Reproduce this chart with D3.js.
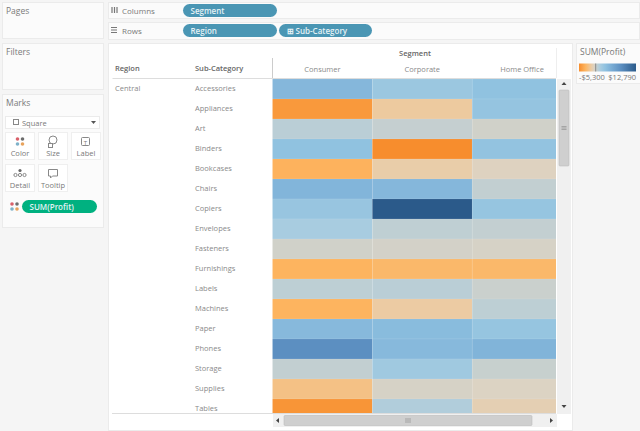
<!DOCTYPE html>
<html>
<head>
<meta charset="utf-8">
<script src="https://d3js.org/d3.v7.min.js"></script>
<style>
html, body { margin: 0; padding: 0; background: #f5f5f5; overflow: hidden; }
text { font-family: "Open Sans", sans-serif; }
</style>
</head>
<body>
<svg id="main" width="640" height="431"></svg>
<script>
// values
var subCategories = ['Accessories', 'Appliances', 'Art', 'Binders', 'Bookcases', 'Chairs', 'Copiers', 'Envelopes',
    'Fasteners', 'Furnishings', 'Labels', 'Machines', 'Paper', 'Phones', 'Storage', 'Supplies', 'Tables'];
var segments = ['Consumer', 'Corporate', 'Home Office'];
var consumerProfit = [4000, -4700, 700, 3000, -3400, 4200, 2500, 1500, -100, -3300, 600, -3300, 3800, 8000, 400, -2300, -4900];
var corporateProfit = [2300, -1600, 300, -5300, -1300, 4000, 12790, 500, -200, -3000, 700, -1500, 3600, 3800, 2000, -300, 1100];
var homeOfficeProfit = [3000, 2700, -100, 2800, -600, 400, 2600, 350, -300, -3000, 100, 600, 2600, 4300, 200, -500, -1000];
var legendLabels = ['-$5,300', '$12,790'];
var legendDomain = [-5300, 12790];

var profitBySegment = [consumerProfit, corporateProfit, homeOfficeProfit];

var svg = d3.select('#main');
var textColor = '#7a7a7a';
var lineColor = '#ebebeb';

var color = d3.scaleLinear()
    .domain([-5300, -3300, -1500, -500, 0, 500, 1500, 3000, 4500, 8000, 12790])
    .range(['#f78d2d', '#fdb45f', '#eccba3', '#dcd3c3', '#cdd0cb', '#bfcfd3', '#a8cce0', '#90c2e0', '#7fb2d8', '#5c8fc1', '#2b5a8a'])
    .clamp(true);

function panel(x, y, w, h, fill) {
    svg.append('rect').attr('x', x + 0.5).attr('y', y + 0.5).attr('width', w).attr('height', h)
        .attr('fill', fill || '#fbfbfb').attr('stroke', lineColor);
}

function label(x, y, s, size, fill, anchor, weight) {
    return svg.append('text').attr('x', x).attr('y', y).text(s)
        .style('font-size', size + 'px')
        .style('fill', fill || textColor)
        .style('text-anchor', anchor || 'start')
        .style('font-weight', weight || 400);
}

function pill(x, y, w, h, s, fill) {
    svg.append('rect').attr('x', x).attr('y', y).attr('width', w).attr('height', h)
        .attr('rx', h / 2).attr('fill', fill);
    label(x + 7.5, y + h - 3.5, s, 8, '#e4f1f5', 'start', 600);
}

// left side panels
panel(2, 2, 101, 36);
label(6, 14, 'Pages', 8.5);
panel(2, 43, 101, 46);
label(6, 55, 'Filters', 8.5);
panel(2, 94, 101, 133);
label(6, 106, 'Marks', 8.5);

// mark type dropdown
panel(5, 116, 94, 12, 'white');
svg.append('rect').attr('x', 13.5).attr('y', 119.5).attr('width', 5).attr('height', 5)
    .attr('fill', 'none').attr('stroke', '#888');
label(22, 125.5, 'Square', 7.5);
svg.append('path').attr('d', 'M91 121h5l-2.5 3z').attr('fill', '#555');

// mark cards
var cards = [
    { name: 'Color', x: 5, y: 132 }, { name: 'Size', x: 38, y: 132 }, { name: 'Label', x: 71, y: 132 },
    { name: 'Detail', x: 5, y: 164 }, { name: 'Tooltip', x: 38, y: 164 }
];
cards.forEach(function (c) {
    svg.append('rect').attr('x', c.x + 0.5).attr('y', c.y + 0.5).attr('width', 29).attr('height', 27)
        .attr('fill', 'white').attr('stroke', '#efefef');
    label(c.x + 15, c.y + 24, c.name, 7.5, textColor, 'middle');
});

function colorDots(x, y) {
    svg.selectAll(null).data(['#d9606a', '#6d6d6d', '#7fb2c9', '#e8a35c']).enter().append('circle')
        .attr('cx', function (d, i) { return x + (i % 2) * 5; })
        .attr('cy', function (d, i) { return y + Math.floor(i / 2) * 5; })
        .attr('r', 1.8).attr('fill', function (d) { return d; });
}
colorDots(17.5, 139);
svg.append('circle').attr('cx', 53).attr('cy', 140).attr('r', 4).attr('fill', 'none').attr('stroke', '#888');
svg.append('rect').attr('x', 48.5).attr('y', 143.5).attr('width', 4).attr('height', 4).attr('fill', 'white').attr('stroke', '#888');
svg.append('rect').attr('x', 81.5).attr('y', 137.5).attr('width', 8).attr('height', 8).attr('rx', 1).attr('fill', 'none').attr('stroke', '#888');
label(85.5, 144.5, 'T', 6, '#777', 'middle');
svg.selectAll(null).data([15.5, 20, 24.5]).enter().append('circle')
    .attr('cx', function (d) { return d; }).attr('cy', 175).attr('r', 1.6).attr('fill', 'none').attr('stroke', '#888');
svg.append('circle').attr('cx', 20).attr('cy', 170.5).attr('r', 1.6).attr('fill', '#666');
svg.append('path').attr('d', 'M48.5 169.5h9v6.5h-5l-2 2v-2h-2z').attr('fill', 'none').attr('stroke', '#888');

colorDots(12, 204);
pill(22, 200, 75, 13, 'SUM(Profit)', '#00b180');

// shelves
panel(108, 2, 531, 16);
panel(108, 22, 531, 17);
svg.append('path').attr('d', 'M112 7v6M114.5 7v6M117 7v6').attr('stroke', '#777').attr('stroke-width', 1.2);
label(122, 14, 'Columns', 8);
svg.append('path').attr('d', 'M111 27.5h6M111 30h6M111 32.5h6').attr('stroke', '#777').attr('stroke-width', 1.2);
label(122, 34, 'Rows', 8);
pill(183, 4, 94, 13, 'Segment', '#4a96b4');
pill(183, 24, 94, 13, 'Region', '#4a96b4');
pill(279, 24, 93, 13, '\u229e Sub-Category', '#4a96b4');

// view
panel(108, 43, 464, 387, 'white');

var x = d3.scaleBand().domain(segments).range([272.5, 572]);
var y = d3.scaleBand().domain(subCategories).range([79, 419]);

svg.append('clipPath').attr('id', 'cells').append('rect')
    .attr('x', 272).attr('y', 78).attr('width', 284).attr('height', 335);
svg.append('clipPath').attr('id', 'names').append('rect')
    .attr('x', 112).attr('y', 78).attr('width', 160).attr('height', 335);

var cellData = [];
segments.forEach(function (seg, i) {
    subCategories.forEach(function (sub, j) {
        cellData.push({ segment: seg, subCategory: sub, profit: profitBySegment[i][j] });
    });
});

svg.append('g').attr('clip-path', 'url(#cells)')
    .selectAll('rect')
    .data(cellData)
    .enter()
    .append('rect')
    .attr('x', function (d) { return x(d.segment); })
    .attr('y', function (d) { return y(d.subCategory); })
    .attr('width', x.bandwidth())
    .attr('height', y.bandwidth())
    .attr('fill', function (d) { return color(d.profit); })
    .attr('stroke', 'rgba(255,255,255,0.1)')
    .attr('stroke-width', 0.7);

// sub-category axis
var rowAxis = svg.append('g').attr('clip-path', 'url(#names)')
    .append('g').attr('transform', 'translate(195,0)')
    .call(d3.axisRight(y).tickSize(0).tickPadding(0));
rowAxis.select('.domain').remove();
rowAxis.selectAll('text').style('font-size', '7.5px').style('fill', '#8a8a8a').style('font-family', '"Open Sans", sans-serif');

// segment axis
var colAxis = svg.append('g').attr('transform', 'translate(0,71.5)')
    .call(d3.axisTop(x).tickSize(0).tickPadding(0));
colAxis.select('.domain').remove();
colAxis.selectAll('text').style('font-size', '7.5px').style('fill', '#8a8a8a').style('font-family', '"Open Sans", sans-serif');
colAxis.selectAll('.tick').filter(function (d) { return d === 'Home Office'; })
    .attr('transform', 'translate(522,0)');

label(115, 71, 'Region', 7.5, '#666', 'start', 600);
label(195, 71, 'Sub-Category', 7.5, '#666', 'start', 600);
label(415, 56, 'Segment', 7.5, '#666', 'middle', 600);
label(115, 91, 'Central', 7.5, '#8a8a8a');

// header rules
svg.append('path').attr('d', 'M112.5 78.5H556').attr('stroke', '#ddd').attr('fill', 'none');
svg.append('path').attr('d', 'M272.5 58V78').attr('stroke', '#ccc').attr('fill', 'none');
svg.append('path').attr('d', 'M556.5 48V78').attr('stroke', '#eee').attr('fill', 'none');
svg.append('path').attr('d', 'M112 413.5H556').attr('stroke', '#ddd').attr('fill', 'none');

// vertical scrollbar
svg.append('rect').attr('x', 557).attr('y', 79).attr('width', 14).attr('height', 335).attr('fill', '#f0f0f0');
svg.append('rect').attr('x', 559).attr('y', 90).attr('width', 10).attr('height', 76).attr('rx', 1)
    .attr('fill', '#cfcfcf').attr('stroke', '#b5b5b5').attr('stroke-width', 0.5);
svg.append('path').attr('d', 'M561.5 126.5h5M561.5 128h5M561.5 129.5h5').attr('stroke', '#888').attr('stroke-width', 0.6);
svg.append('path').attr('d', 'M561.5 85l2.5-3 2.5 3z').attr('fill', '#444');
svg.append('path').attr('d', 'M561.5 405l2.5 3 2.5-3z').attr('fill', '#444');

// horizontal scrollbar
svg.append('rect').attr('x', 273).attr('y', 414).attr('width', 284).attr('height', 13).attr('fill', '#f0f0f0');
svg.append('rect').attr('x', 284).attr('y', 415.5).attr('width', 248).attr('height', 10).attr('rx', 1)
    .attr('fill', '#cfcfcf').attr('stroke', '#b5b5b5').attr('stroke-width', 0.5);
svg.append('path').attr('d', 'M406 418v5M408 418v5M410 418v5').attr('stroke', '#888').attr('stroke-width', 0.6);
svg.append('path').attr('d', 'M279 418l-3 2.5 3 2.5z').attr('fill', '#444');
svg.append('path').attr('d', 'M550 418l3 2.5-3 2.5z').attr('fill', '#444');

// legend
panel(576, 43, 64, 40);
label(580, 55, 'SUM(Profit)', 8.5, '#777');
var legendX = d3.scaleLinear().domain(legendDomain).range([579, 636]);
var grad = svg.append('defs').append('linearGradient').attr('id', 'profit-gradient');
color.domain().forEach(function (v) {
    grad.append('stop')
        .attr('offset', (v - legendDomain[0]) / (legendDomain[1] - legendDomain[0]))
        .attr('stop-color', color(v));
});
svg.append('rect').attr('x', legendX(legendDomain[0])).attr('y', 63.5)
    .attr('width', legendX(legendDomain[1]) - legendX(legendDomain[0])).attr('height', 8)
    .attr('fill', 'url(#profit-gradient)');
svg.append('path').attr('d', 'M' + legendX(0) + ' 63.5v8').attr('stroke', '#777').attr('stroke-width', 0.8);
label(579, 80, legendLabels[0], 7.5, '#777');
label(636, 80, legendLabels[1], 7.5, '#777', 'end');
</script>
</body>
</html>
